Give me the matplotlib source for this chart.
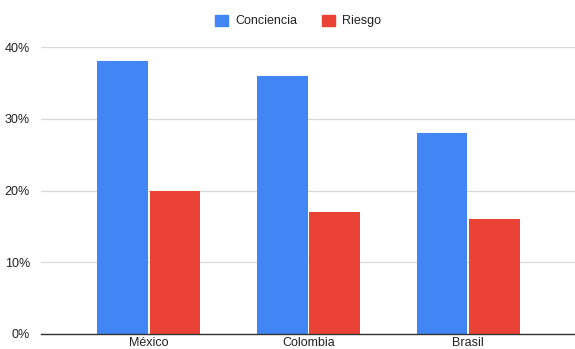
import numpy as np
import matplotlib.pyplot as plt
from matplotlib.ticker import PercentFormatter
from matplotlib.patches import Patch

plt.rcParams['font.family'] = ['Liberation Sans', 'DejaVu Sans']

paises = ['México', 'Colombia', 'Brasil']
conciencia = [38, 36, 28]
riesgo = [20, 17, 16]
series = ['Conciencia', 'Riesgo']
colores = ['#4285f4', '#ea4335']

fig = plt.figure(figsize=(5.75, 3.49), dpi=100)
ax = fig.add_axes([41 / 575, 15 / 349, 1 - 41 / 575, 287 / 349])

x = np.arange(len(paises))
w = 0.318
ax.bar(x - w / 2 - 0.006, conciencia, w, color=colores[0], zorder=3)
ax.bar(x + w / 2 + 0.006, riesgo, w, color=colores[1], zorder=3)

ax.set_xlim(-0.673, 2.667)
ax.set_ylim(0, 40)
ax.set_yticks([0, 10, 20, 30, 40])
ax.yaxis.set_major_formatter(PercentFormatter(decimals=0))
ax.set_xticks(x)
ax.set_xticklabels(paises)
ax.tick_params(axis='both', length=0, labelsize=9, labelcolor='#222222')
ax.tick_params(axis='y', pad=8)
ax.tick_params(axis='x', pad=2.5)

ax.grid(axis='y', color='#d9d9d9', linewidth=0.9, zorder=0)
for s in ['top', 'right', 'left']:
    ax.spines[s].set_visible(False)
ax.spines['bottom'].set_color('#333333')
ax.spines['bottom'].set_linewidth(1.0)
ax.spines['bottom'].set_zorder(4)

handles = [Patch(color=c, label=s) for c, s in zip(colores, series)]
fig.legend(handles=handles, loc='center', bbox_to_anchor=(298 / 575, 1 - 21 / 349),
           ncol=2, frameon=False, fontsize=9, handlelength=1.0, handleheight=1.0,
           handletextpad=0.6, columnspacing=2.0, labelcolor='#222222')

fig.savefig('out.png', dpi=100)
